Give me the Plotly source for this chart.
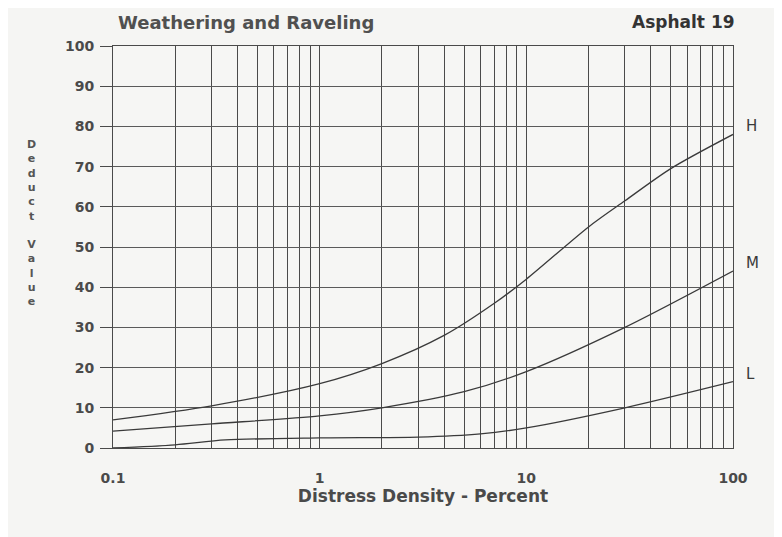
import plotly.graph_objects as go

density_h = [0.1, 0.3, 1, 2, 4, 7, 10, 20, 30, 50, 100]
value_h = [7, 10.5, 16, 21, 28, 36, 42, 55, 61.5, 69.5, 78]

density_m = [0.1, 0.3, 1, 2, 5, 10, 30, 100]
value_m = [4.2, 6, 8, 10, 14, 19, 30, 44]

density_l = [0.1, 0.2, 0.35, 1, 3, 6, 10, 30, 100]
value_l = [0, 0.8, 2, 2.5, 2.7, 3.5, 5, 10, 16.5]

curve_labels = ["H", "M", "L"]
x_ticks = [0.1, 1, 10, 100]
x_tick_text = ["0.1", "1", "10", "100"]
y_ticks = list(range(0, 101, 10))

line_color = "#3a3a3a"
grid_color = "#4a4a4a"
fam = "DejaVu Sans, Verdana, sans-serif"
text_color = "#4a4a4a"
font = dict(family=fam, size=14, color=text_color)

fig = go.Figure()
for xs, ys in [(density_h, value_h), (density_m, value_m), (density_l, value_l)]:
    fig.add_trace(go.Scatter(x=xs, y=ys, mode="lines",
                             line=dict(color=line_color, width=1.3, shape="spline", smoothing=0.8),
                             showlegend=False, hoverinfo="skip"))

for lab, ys in zip(curve_labels, [value_h, value_m, value_l]):
    fig.add_annotation(x=1.0, xref="paper", y=ys[-1] + 2, yref="y", text=lab,
                       showarrow=False, xanchor="left", xshift=11,
                       font=dict(family=fam, size=15, color="#3a3a3a"))

fig.update_layout(
    width=782, height=537,
    margin=dict(l=105, r=57, t=38, b=97),
    paper_bgcolor="#f5f5f3",
    plot_bgcolor="#f6f6f4",
    font=font,
    xaxis=dict(type="log", range=[-1, 2], tickvals=x_ticks, ticktext=["<b>%s</b>" % t for t in x_tick_text],
               showgrid=True, gridcolor=grid_color, gridwidth=1.2,
               minor=dict(dtick="D1", showgrid=True, gridcolor=grid_color, gridwidth=1.2),
               showline=True, linecolor=grid_color, mirror=True,
               ticks="", ticklabelstandoff=17,
               tickfont=dict(family=fam, size=14, color=text_color),
               title=dict(text="<b>Distress Density - Percent</b>", standoff=2,
                          font=dict(family=fam, size=17, color=text_color)),
               zeroline=False),
    yaxis=dict(range=[0, 100], tickvals=y_ticks, ticktext=["<b>%d</b>" % v for v in y_ticks],
               showgrid=True, gridcolor="#5a5a5a",
               gridwidth=1, showline=True, linecolor=grid_color, mirror=True,
               ticks="outside", ticklen=12, tickcolor=grid_color, ticklabelstandoff=3,
               tickfont=dict(family=fam, size=14, color=text_color), zeroline=False),
)

fig.add_annotation(x=0, xref="paper", y=1, yref="paper", yshift=24, yanchor="middle",
                   text="<b>Weathering and Raveling</b>", xshift=3,
                   showarrow=False, xanchor="left", font=dict(family=fam, size=18, color="#505050"))
fig.add_annotation(x=1, xref="paper", y=1, yref="paper", yshift=24, yanchor="middle",
                   text="<b>Asphalt 19</b>", xshift=4,
                   showarrow=False, xanchor="right", font=dict(family=fam, size=17, color="#333"))
fig.add_annotation(x=-0.131, xref="paper", y=0.56, yref="paper",
                   text="<b>" + "<br>".join(list("Deduct")) + "<br><br>" + "<br>".join(list("Value")) + "</b>",
                   showarrow=False, font=dict(family=fam, size=11, color="#555"), xanchor="center")

fig.write_html("out.html")
